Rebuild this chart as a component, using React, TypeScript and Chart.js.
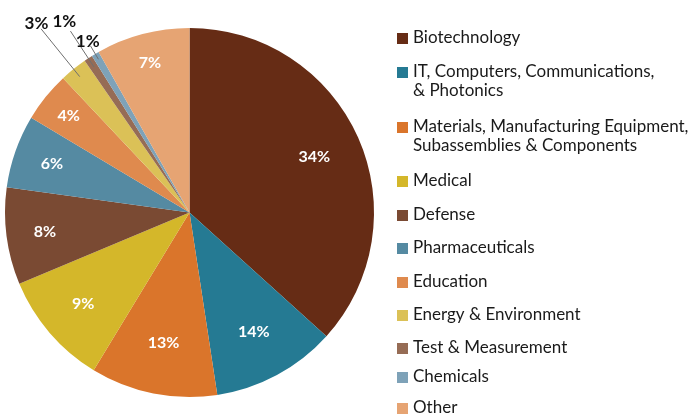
import React, { useEffect, useRef } from "react";
import { Chart, ArcElement, PieController } from "chart.js";

Chart.register(ArcElement, PieController);

// Category names (legend), "\n" marks a wrapped legend line
const categories = [
  "Biotechnology",
  "IT, Computers, Communications,\n& Photonics",
  "Materials, Manufacturing Equipment,\nSubassemblies & Components",
  "Medical",
  "Defense",
  "Pharmaceuticals",
  "Education",
  "Energy & Environment",
  "Test & Measurement",
  "Chemicals",
  "Other",
];

// Slice sizes as drawn in the picture (share of the full circle, %)
const sliceShares = [36.7, 10.9, 11.1, 10.0, 8.5, 6.4, 4.4, 2.4, 0.75, 0.67, 8.2];

// Printed percentage labels
const percentLabels = ["34%", "14%", "13%", "9%", "8%", "6%", "4%", "3%", "1%", "1%", "7%"];

const sliceColors = [
  "#662c15",
  "#257a93",
  "#da752b",
  "#d4b72a",
  "#7a4a33",
  "#558aa2",
  "#df8a4e",
  "#dbc157",
  "#966c55",
  "#7ea2b8",
  "#e6a473",
];

// label placement style: inside labels use radius fraction; outside use text/line fractions
type LabelStyle =
  | { kind: "in"; r: number }
  | { kind: "out"; text: number; lineFrom: number; lineTo: number };

const labelStyles: LabelStyle[] = [
  { kind: "in", r: 0.74 },
  { kind: "in", r: 0.735 },
  { kind: "in", r: 0.72 },
  { kind: "in", r: 0.76 },
  { kind: "in", r: 0.79 },
  { kind: "in", r: 0.79 },
  { kind: "in", r: 0.84 },
  { kind: "out", text: 1.32, lineFrom: 1.28, lineTo: 0.947 },
  { kind: "out", text: 1.236, lineFrom: 1.176, lineTo: 0.943 },
  { kind: "out", text: 1.08, lineFrom: 1.05, lineTo: 0.966 },
  { kind: "in", r: 0.84 },
];

const legendRowY = [38, 72, 127, 181, 215, 248, 282, 315, 348, 377, 408];

const FONT = "Lato, 'Open Sans', sans-serif";

const sliceLabelPlugin = {
  id: "sliceLabels",
  afterDatasetsDraw(chart: any) {
    const ctx = chart.ctx as CanvasRenderingContext2D;
    const meta = chart.getDatasetMeta(0);
    ctx.save();
    ctx.textAlign = "center";
    ctx.textBaseline = "middle";
    meta.data.forEach((arc: any, i: number) => {
      const p = arc.getProps(["x", "y", "startAngle", "endAngle", "outerRadius"], true);
      const mid = (p.startAngle + p.endAngle) / 2;
      const st = labelStyles[i];
      const at = (f: number) => [p.x + Math.cos(mid) * p.outerRadius * f, p.y + Math.sin(mid) * p.outerRadius * f];
      if (st.kind === "in") {
        const [tx, ty] = at(st.r);
        ctx.fillStyle = "#ffffff";
        ctx.font = `bold 16px ${FONT}`;
        ctx.fillText(percentLabels[i], tx, ty);
      } else {
        const [ax, ay] = at(st.lineFrom);
        const [bx, by] = at(st.lineTo);
        ctx.strokeStyle = "#6f6f6f";
        ctx.lineWidth = 1;
        ctx.beginPath();
        ctx.moveTo(ax, ay);
        ctx.lineTo(bx, by);
        ctx.stroke();
        const [tx, ty] = at(st.text);
        ctx.fillStyle = "#111111";
        ctx.font = `bold 17px ${FONT}`;
        ctx.fillText(percentLabels[i], tx, ty);
      }
    });
    ctx.restore();
  },
};

const legendPlugin = {
  id: "sideLegend",
  afterDraw(chart: any) {
    const ctx = chart.ctx as CanvasRenderingContext2D;
    const labels: string[] = chart.data.labels;
    const colors: string[] = chart.data.datasets[0].backgroundColor;
    ctx.save();
    ctx.textAlign = "left";
    ctx.textBaseline = "middle";
    ctx.font = `17px ${FONT}`;
    labels.forEach((lab, i) => {
      const y = legendRowY[i];
      ctx.fillStyle = colors[i];
      ctx.fillRect(397, y - 5, 11, 11);
      ctx.fillStyle = "#1a1a1a";
      lab.split("\n").forEach((line, k) => {
        ctx.fillText(line, 413, y + k * 19);
      });
    });
    ctx.restore();
  },
};

export default function App() {
  const ref = useRef<HTMLCanvasElement | null>(null);
  useEffect(() => {
    if (!ref.current) return;
    const chart = new Chart(ref.current, {
      type: "pie",
      data: {
        labels: categories,
        datasets: [
          {
            data: sliceShares,
            backgroundColor: sliceColors,
            borderWidth: 0,
          },
        ],
      },
      options: {
        responsive: false,
        maintainAspectRatio: false,
        animation: false,
        layout: { padding: { left: 5, top: 28, right: 317, bottom: 20 } },
        plugins: { legend: { display: false }, tooltip: { enabled: false } },
      },
      plugins: [sliceLabelPlugin, legendPlugin],
    } as any);
    return () => chart.destroy();
  }, []);
  return (
    <div style={{ position: "fixed", left: 0, top: 0, width: 691, height: 417, background: "#fff" }}>
      <canvas ref={ref} width={691} height={417} style={{ display: "block" }} />
    </div>
  );
}
